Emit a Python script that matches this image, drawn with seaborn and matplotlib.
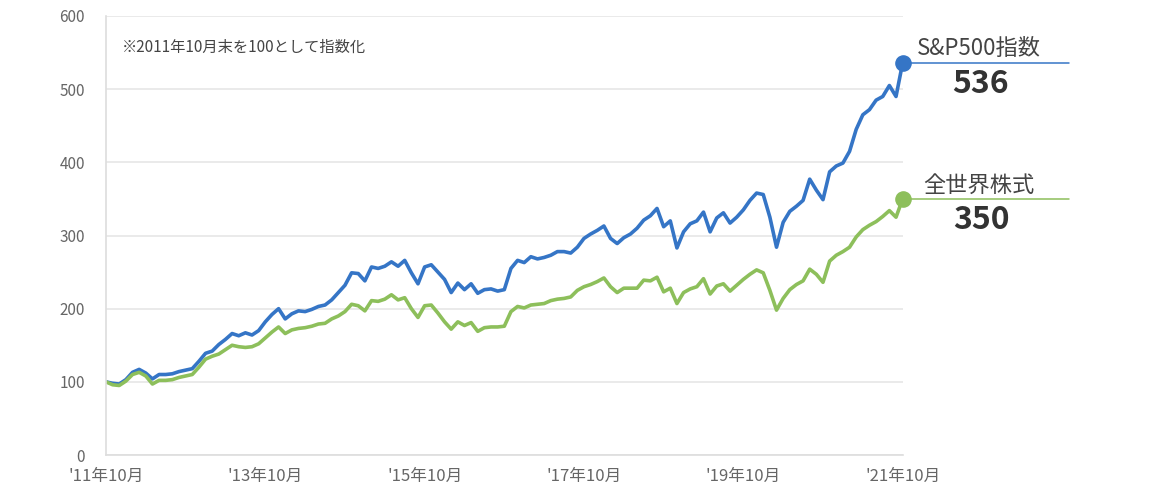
import pandas as pd
import matplotlib
matplotlib.use('Agg')
import matplotlib.pyplot as plt
import seaborn as sns

# Index values (Oct 2011 = 100), monthly from '11/10 to '21/10
sp500 = [100, 98, 97, 103, 113, 117, 112, 104, 110, 110, 111, 114,
         116, 118, 128, 139, 142, 151, 158, 166, 163, 167, 164, 170,
         182, 192, 200, 186, 193, 197, 196, 199, 203, 205, 212, 222,
         232, 249, 248, 238, 257, 255, 258, 264, 258, 266, 249, 234,
         257, 260, 250, 240, 222, 235, 226, 234, 221, 226, 227, 224,
         226, 255, 266, 263, 271, 268, 270, 273, 278, 278, 276, 284,
         296, 302, 307, 313, 296, 289, 297, 302, 310, 321, 327, 337,
         312, 320, 283, 305, 316, 320, 332, 305, 324, 331, 317, 325,
         335, 348, 358, 356, 325, 284, 318, 333, 340, 348, 377, 362,
         349, 387, 395, 399, 415, 445, 465, 472, 485, 490, 505, 490,
         536]
world = [100, 96, 95, 101, 110, 113, 108, 97, 102, 102, 103, 106,
         108, 110, 120, 131, 135, 138, 144, 150, 148, 147, 148, 152,
         160, 168, 175, 166, 171, 173, 174, 176, 179, 180, 186, 190,
         196, 206, 204, 197, 211, 210, 213, 219, 212, 215, 200, 188,
         204, 205, 194, 182, 172, 182, 177, 181, 169, 174, 175, 175,
         176, 196, 203, 201, 205, 206, 207, 211, 213, 214, 216, 225,
         230, 233, 237, 242, 230, 222, 228, 228, 228, 239, 238, 243,
         223, 228, 207, 222, 227, 230, 241, 220, 231, 234, 224, 232,
         240, 247, 253, 249, 225, 198, 214, 226, 233, 238, 254, 247,
         236, 265, 273, 278, 284, 298, 308, 314, 319, 326, 334, 325,
         350]
series_names = ['S&P500指数', '全世界株式']
tick_labels = ["'11年10月", "'13年10月", "'15年10月", "'17年10月", "'19年10月", "'21年10月"]
note = '※2011年10月末を100として指数化'

months = list(range(len(sp500)))
df = pd.DataFrame({
    'month': months * 2,
    'value': sp500 + world,
    'series': [series_names[0]] * len(sp500) + [series_names[1]] * len(world),
})

blue = '#3575c6'
green = '#8dbf5b'
grid_gray = '#e6e6e6'
text_gray = '#666666'

sns.set_style('white')
plt.rcParams['font.family'] = ['Noto Sans CJK JP', 'DejaVu Sans']

fig = plt.figure(figsize=(11.58, 5.0), dpi=100)
ax = fig.add_axes([0.0915, 0.09, 0.688, 0.878])

sns.lineplot(data=df, x='month', y='value', hue='series',
             palette=[blue, green], linewidth=2.6, legend=False, ax=ax)

ax.set_xlim(0, 120)
ax.set_ylim(0, 600)
ax.set_yticks(range(0, 601, 100))
ax.set_xticks(range(0, 121, 24))
ax.set_xticklabels(tick_labels)
ax.set_xticks(range(12, 121, 24), minor=True)
ax.set_xlabel('')
ax.set_ylabel('')
ax.yaxis.grid(True, color=grid_gray, linewidth=1.2)
ax.set_axisbelow(True)

for side in ['top', 'right']:
    ax.spines[side].set_visible(False)
for side in ['left', 'bottom']:
    ax.spines[side].set_color('#dddddd')
    ax.spines[side].set_linewidth(1.2)

ax.tick_params(axis='y', length=0, labelsize=11, labelcolor=text_gray, pad=15)
ax.tick_params(axis='x', which='major', direction='inout', length=6,
               color='#dddddd', labelsize=12, labelcolor=text_gray, pad=6)
ax.tick_params(axis='x', which='minor', direction='in', length=4, color='#dddddd')

ax.text(0.02, 0.929, note, transform=ax.transAxes, fontsize=11, color='#444444', va='center')

# End markers, leader lines and labels
last = months[-1]
for vals, color, name in [(sp500, blue, series_names[0]), (world, green, series_names[1])]:
    v = vals[-1]
    ax.plot([last, last + 25], [v, v], color=color, linewidth=1.1, clip_on=False, zorder=2)
    ax.scatter([last], [v], s=120, color=color, zorder=4, clip_on=False)
    ax.text(last + 11.5, v + 19, name, fontsize=16, color='#444444', ha='center', va='center')
    ax.text(last + 11.8, v - 29, str(v), fontsize=23, fontweight='bold', color='#333333',
            ha='center', va='center')

fig.savefig('out.png', dpi=100)
